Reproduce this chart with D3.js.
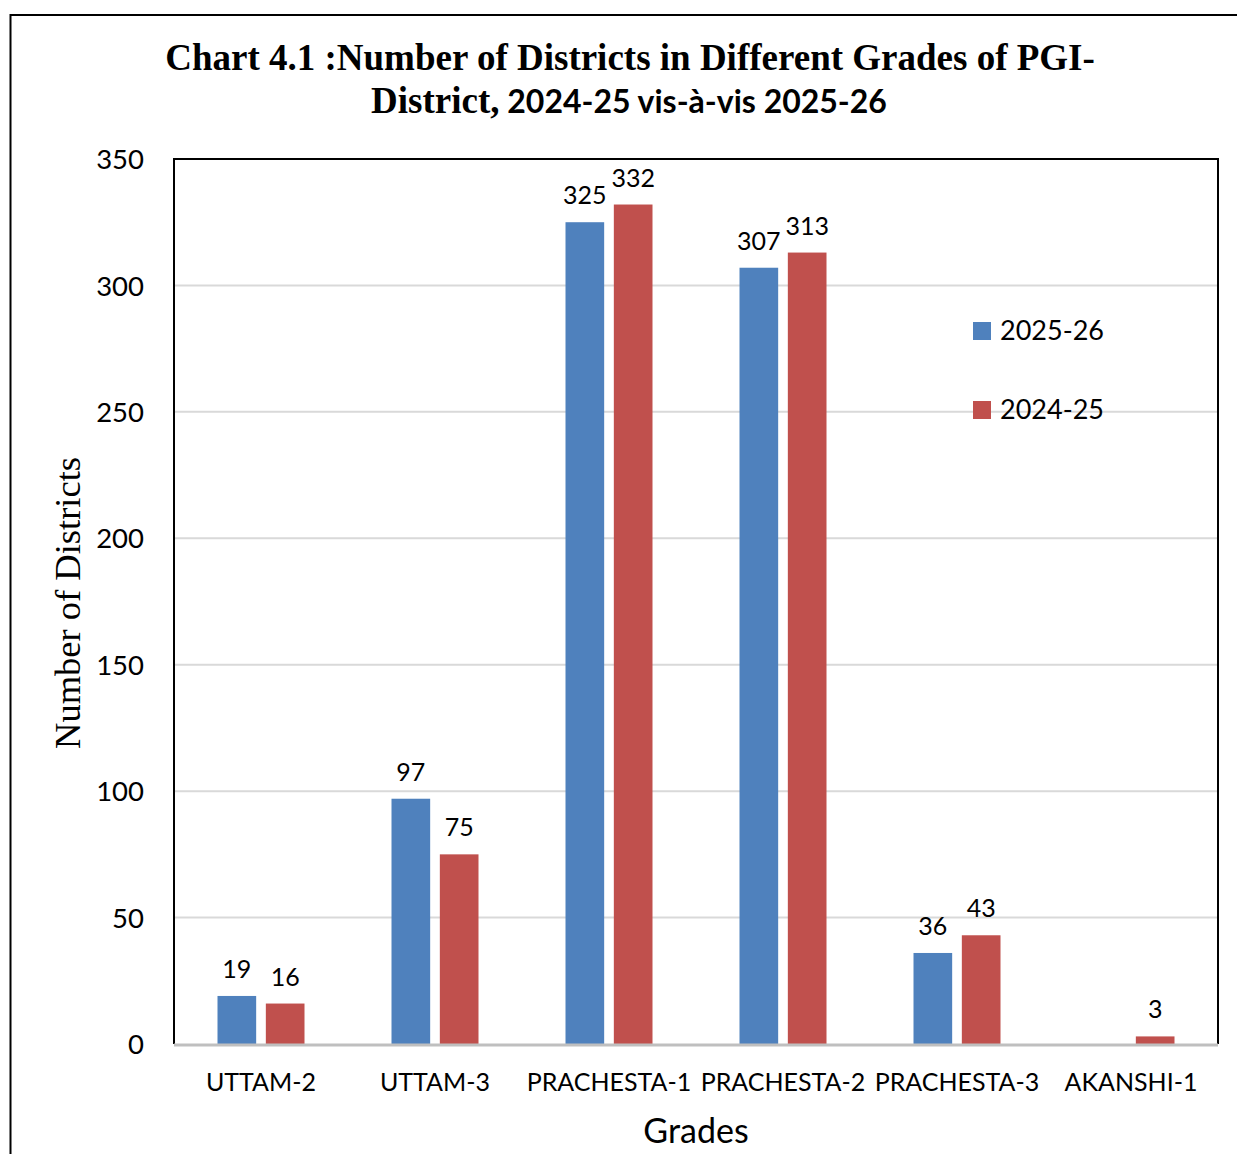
<!DOCTYPE html>
<html>
<head>
<meta charset="utf-8">
<script src="https://cdn.jsdelivr.net/npm/d3@7"></script>
<style>
  body { margin: 0; background: #fff; }
  .sans { font-family: Lato, "Open Sans", sans-serif; }
  .serif { font-family: "Liberation Serif", "Times New Roman", serif; }
</style>
</head>
<body>
<script>
// chart values
var grades = ["UTTAM-2", "UTTAM-3", "PRACHESTA-1", "PRACHESTA-2", "PRACHESTA-3", "AKANSHI-1"];
var series = ["2025-26", "2024-25"];
var values2526 = [19, 97, 325, 307, 36, null];
var values2425 = [16, 75, 332, 313, 43, 3];
var yTicks = [0, 50, 100, 150, 200, 250, 300, 350];
var colors = ["#4f81bd", "#c0504d"];

var W = 1237, H = 1154;
var margin = { top: 159, right: 19, bottom: 110, left: 174 },
    width = W - margin.left - margin.right,
    height = H - margin.top - margin.bottom;

var svg = d3.select("body").append("svg")
    .attr("width", W)
    .attr("height", H);

// outer frame (runs off the right and bottom of the picture)
svg.append("path")
    .attr("d", "M10.5," + (H + 5) + " V15 H" + (W + 5))
    .attr("fill", "none")
    .attr("stroke", "#000")
    .attr("stroke-width", 2);

// title
var title = svg.append("text")
    .attr("text-anchor", "middle")
    .attr("font-weight", "bold")
    .attr("fill", "#000");
title.append("tspan")
    .attr("class", "serif")
    .attr("x", 630).attr("y", 70)
    .attr("font-size", "37px")
    .text("Chart 4.1 :Number of Districts in Different Grades of PGI-");
var t2 = title.append("tspan").attr("x", 629).attr("y", 113);
t2.append("tspan").attr("class", "serif").attr("font-size", "37px").text("District,");
t2.append("tspan").attr("class", "sans").attr("font-size", "32px").text(" 2024-25 vis-à-vis 2025-26");

var g = svg.append("g")
    .attr("transform", "translate(" + margin.left + "," + margin.top + ")");

var x0 = d3.scaleBand()
    .domain(grades)
    .range([0, width]);

var x1 = d3.scaleBand()
    .domain(series)
    .range([x0.bandwidth() * 0.25, x0.bandwidth() * 0.75])
    .paddingInner(0.2);

var y = d3.scaleLinear()
    .domain([0, 350])
    .range([height, 0]);

// gridlines
g.append("g")
    .selectAll("line")
    .data(yTicks.slice(1, -1))
    .enter().append("line")
    .attr("x1", 0).attr("x2", width)
    .attr("y1", d => y(d)).attr("y2", d => y(d))
    .attr("stroke", "#d9d9d9")
    .attr("stroke-width", 2);

// y axis labels
var yAxis = d3.axisLeft(y).tickValues(yTicks).tickSize(0).tickPadding(30);
g.append("g")
    .call(yAxis)
    .call(a => a.select(".domain").remove())
    .call(a => a.selectAll("text")
        .attr("class", "sans")
        .attr("font-size", "27.5px")
        .attr("fill", "#000")
        .attr("dy", "0.35em"));

// bars
var rows = grades.map((gr, i) => ({ grade: gr, vals: [values2526[i], values2425[i]] }));
var groups = g.selectAll(".grp")
    .data(rows)
    .enter().append("g")
    .attr("class", "grp")
    .attr("transform", d => "translate(" + x0(d.grade) + ",0)");

groups.selectAll("rect")
    .data(d => d.vals.map((v, j) => ({ s: series[j], v: v, c: colors[j] })).filter(d => d.v != null))
    .enter().append("rect")
    .attr("x", d => x1(d.s))
    .attr("width", x1.bandwidth())
    .attr("y", d => y(d.v))
    .attr("height", d => y(0) - y(d.v))
    .attr("fill", d => d.c);

groups.selectAll(".val")
    .data(d => d.vals.map((v, j) => ({ s: series[j], v: v })).filter(d => d.v != null))
    .enter().append("text")
    .attr("class", "val sans")
    .attr("x", d => x1(d.s) + x1.bandwidth() / 2)
    .attr("y", d => y(d.v) - 18)
    .attr("text-anchor", "middle")
    .attr("font-size", "25px")
    .attr("fill", "#000")
    .text(d => d.v);

// plot frame: black left/top/right, grey base
g.append("path")
    .attr("d", "M0," + height + " V0 H" + width + " V" + height)
    .attr("fill", "none")
    .attr("stroke", "#000")
    .attr("stroke-width", 2);
g.append("line")
    .attr("x1", 0).attr("x2", width)
    .attr("y1", height + 1).attr("y2", height + 1)
    .attr("stroke", "#bfbfbf")
    .attr("stroke-width", 3);

// x axis labels
var xAxis = d3.axisBottom(x0).tickSize(0).tickPadding(29);
g.append("g")
    .attr("transform", "translate(0," + height + ")")
    .call(xAxis)
    .call(a => a.select(".domain").remove())
    .call(a => a.selectAll("text")
        .attr("class", "sans")
        .attr("font-size", "25px")
        .attr("fill", "#000"));

// axis titles
svg.append("text")
    .attr("class", "sans")
    .attr("x", 696).attr("y", 1143)
    .attr("text-anchor", "middle")
    .attr("font-size", "34px")
    .attr("fill", "#000")
    .text("Grades");

svg.append("text")
    .attr("class", "serif")
    .attr("transform", "translate(80,603) rotate(-90)")
    .attr("text-anchor", "middle")
    .attr("font-size", "36.5px")
    .attr("fill", "#000")
    .text("Number of Districts");

// legend
var legend = svg.append("g").attr("transform", "translate(973,322)");
series.forEach(function (s, i) {
    var row = legend.append("g").attr("transform", "translate(0," + (i * 79) + ")");
    row.append("rect")
        .attr("width", 18).attr("height", 18)
        .attr("fill", colors[i]);
    row.append("text")
        .attr("class", "sans")
        .attr("x", 27).attr("y", 9)
        .attr("dy", "0.35em")
        .attr("font-size", "27px")
        .attr("fill", "#000")
        .text(s);
});
</script>
</body>
</html>
